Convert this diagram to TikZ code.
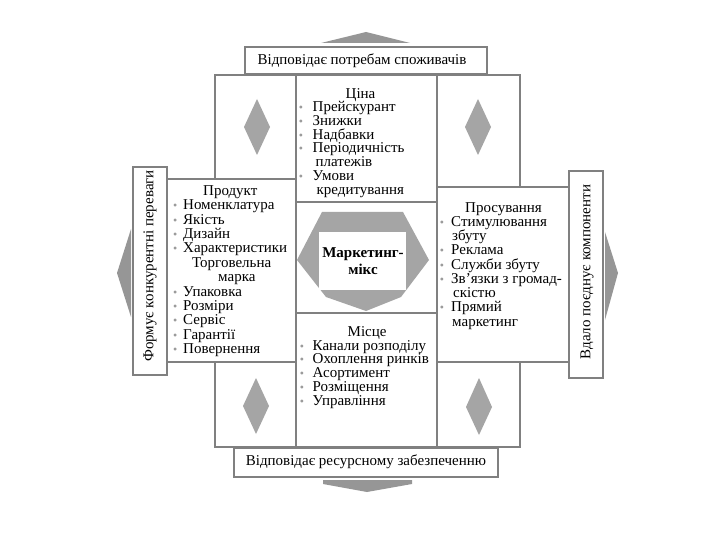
\documentclass[tikz,border=0pt]{standalone}
\usepackage{fontspec}
\setmainfont{Liberation Serif}
\definecolor{linegray}{RGB}{128,128,128}
\definecolor{shapegray}{RGB}{165,165,165}
\definecolor{arrowgray}{RGB}{150,150,150}
\definecolor{bulgray}{RGB}{155,155,155}
\newcommand\bul[1]{\leavevmode\llap{{\color{bulgray}\fontsize{12}{12}\selectfont•}\hspace{#1}}}
\newcommand\fstrut{\rule{0pt}{12pt}}
\newcommand\pfont[1]{\fontsize{15}{#1}\selectfont\lineskiplimit-20pt\relax}
\tikzset{
  frame/.style={draw=linegray, line width=2.3pt, fill=white},
  diam/.style={fill=shapegray, draw=none},
  outarrow/.style={fill=arrowgray, draw=none},
  panel/.style={anchor=north west, inner sep=0pt, align=left},
  lbl/.style={inner sep=0pt, font=\fontsize{15}{15}\selectfont}
}
\begin{document}
\begin{tikzpicture}[x=1pt,y=-1pt]
\useasboundingbox (0,0) rectangle (720,540);
% outer arrows
\fill[outarrow] (321,43) -- (366,32) -- (410,43) -- cycle;
\fill[outarrow] (323,480) -- (412,480) -- (412,484) -- (367,492) -- (323,484) -- cycle;
\fill[outarrow] (131,229) -- (117,273) -- (131,317) -- cycle;
\fill[outarrow] (605,232) -- (618,273) -- (605,320) -- cycle;
% corner boxes
\draw[frame] (215,75) rectangle (296,179);
\draw[frame] (437,75) rectangle (520,187);
\draw[frame] (215,362) rectangle (296,447);
\draw[frame] (437,362) rectangle (520,447);
% central column
\draw[frame] (296,75) rectangle (437,202);
\draw[frame] (296,202) rectangle (437,313);
\draw[frame] (296,313) rectangle (437,447);
% side panels
\draw[frame] (167,179) rectangle (296,362);
\draw[frame] (437,187) rectangle (569,362);
% vertical label boxes
\draw[frame] (133,167) rectangle (167,375);
\draw[frame] (569,171) rectangle (603,378);
% top / bottom label boxes
\draw[frame] (245,47) rectangle (487,74);
\draw[frame] (234,448) rectangle (498,477);
% diamonds
\fill[diam] (257,99) -- (270,127) -- (257,155) -- (244,127) -- cycle;
\fill[diam] (478,99) -- (491,127) -- (478,155) -- (465,127) -- cycle;
\fill[diam] (256,378) -- (269,406) -- (256,434) -- (243,406) -- cycle;
\fill[diam] (479,378) -- (492,407) -- (479,435) -- (466,407) -- cycle;
% centre shape
\fill[shapegray] (322,212) -- (403,212) -- (429,260) -- (401,297) -- (366,311) -- (326,297) -- (297,260) -- cycle;
\fill[white] (319,232) rectangle (406,290);
\node[inner sep=0pt, align=center, font=\fontsize{15}{17.5}\selectfont\bfseries] (mix) at (363,261) {Маркетинг-\\мікс};
% labels
\node[lbl] (top) at (362,61) {Відповідає потребам споживачів};
\node[lbl] (bottom) at (366,462) {Відповідає ресурсному забезпеченню};
\node[lbl, rotate=90] (left) at (150,266) {Формує конкурентні переваги};
\node[lbl, rotate=90] (right) at (587,272) {Вдало поєднує компоненти};
% panels
\node[panel, font={\pfont{14.4}}] (product) at (183,183) {%
\fstrut\hspace*{20pt}Продукт\\
\bul{5.9pt}Номенклатура\\
\bul{5.9pt}Якість\\
\bul{5.9pt}Дизайн\\
\bul{5.9pt}Характеристики\\
\hspace*{9pt}Торговельна\\
\hspace*{35pt}марка\\
\bul{5.9pt}Упаковка\\
\bul{5.9pt}Розміри\\
\bul{5.9pt}Сервіс\\
\bul{5.9pt}Гарантії\\
\bul{5.9pt}Повернення};
\node[panel, font={\pfont{13.7}}] (price) at (312.5,86) {%
\fstrut\hspace*{33pt}Ціна\\
\bul{9.7pt}Прейскурант\\
\bul{9.7pt}Знижки\\
\bul{9.7pt}Надбавки\\
\bul{9.7pt}Періодичність\\
\hspace*{3pt}платежів\\
\bul{9.7pt}Умови\\
\hspace*{4pt}кредитування};
\node[panel, font={\pfont{14.25}}] (promo) at (451,200) {%
\fstrut\hspace*{14pt}Просування\\
\bul{7.2pt}Стимулювання\\
\hspace*{1pt}збуту\\
\bul{7.2pt}Реклама\\
\bul{7.2pt}Служби збуту\\
\bul{7.2pt}Зв’язки з громад-\\
\hspace*{2pt}скістю\\
\bul{7.2pt}Прямий\\
\hspace*{1pt}маркетинг};
\node[panel, font={\pfont{13.8}}] (place) at (312.5,324) {%
\fstrut\hspace*{35pt}Місце\\
\bul{8.7pt}Канали розподілу\\
\bul{8.7pt}Охоплення ринків\\
\bul{8.7pt}Асортимент\\
\bul{8.7pt}Розміщення\\
\bul{8.7pt}Управління};
\end{tikzpicture}
\end{document}
